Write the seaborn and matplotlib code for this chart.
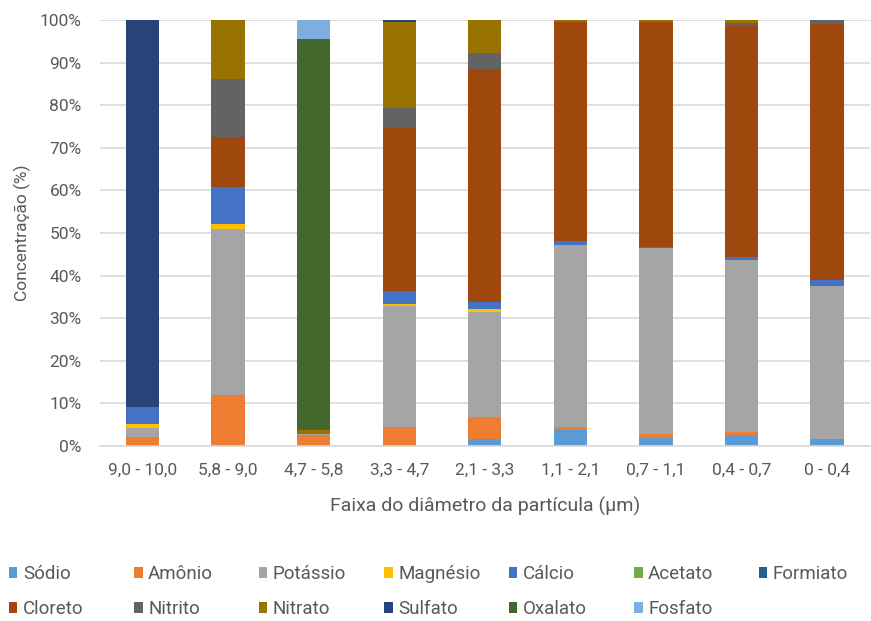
import numpy as np
import pandas as pd
import matplotlib
matplotlib.use("Agg")
import matplotlib.pyplot as plt
import seaborn as sns
from matplotlib.patches import Patch
from matplotlib.ticker import PercentFormatter

categories = ["9,0 - 10,0", "5,8 - 9,0", "4,7 - 5,8", "3,3 - 4,7", "2,1 - 3,3",
              "1,1 - 2,1", "0,7 - 1,1", "0,4 - 0,7", "0 - 0,4"]
species = ["Sódio", "Amônio", "Potássio", "Magnésio", "Cálcio", "Acetato", "Formiato",
           "Cloreto", "Nitrito", "Nitrato", "Sulfato", "Oxalato", "Fosfato"]

sodio    = [0.0, 0.0, 0.0, 0.0, 1.6, 3.8, 1.9, 2.6, 1.6]
amonio   = [2.0, 12.0, 2.6, 4.5, 5.3, 0.7, 0.9, 0.6, 0.0]
potassio = [2.3, 38.9, 0.3, 28.4, 24.6, 42.7, 43.6, 40.5, 36.0]
magnesio = [0.9, 1.2, 0.0, 0.4, 0.6, 0.0, 0.0, 0.0, 0.0]
calcio   = [4.0, 8.8, 0.0, 3.2, 1.6, 1.0, 0.4, 0.7, 1.4]
acetato  = [0.0, 0.0, 0.0, 0.0, 0.0, 0.0, 0.0, 0.0, 0.0]
formiato = [0.0, 0.0, 0.0, 0.0, 0.0, 0.0, 0.0, 0.0, 0.0]
cloreto  = [0.0, 11.6, 0.0, 38.1, 54.8, 51.4, 52.7, 54.2, 60.1]
nitrito  = [0.0, 13.7, 0.0, 4.7, 3.7, 0.0, 0.0, 0.6, 0.9]
nitrato  = [0.0, 13.8, 0.9, 20.3, 7.8, 0.4, 0.5, 0.8, 0.0]
sulfato  = [90.8, 0.0, 0.0, 0.4, 0.0, 0.0, 0.0, 0.0, 0.0]
oxalato  = [0.0, 0.0, 91.8, 0.0, 0.0, 0.0, 0.0, 0.0, 0.0]
fosfato  = [0.0, 0.0, 4.3, 0.0, 0.0, 0.0, 0.0, 0.0, 0.0]

series = [sodio, amonio, potassio, magnesio, calcio, acetato, formiato,
          cloreto, nitrito, nitrato, sulfato, oxalato, fosfato]
colors = ["#5B9BD5", "#ED7D31", "#A5A5A5", "#FFC000", "#4472C4", "#70AD47", "#255E91",
          "#9E480E", "#636363", "#997300", "#264478", "#43682B", "#7CAFDD"]

sns.set_theme(style="white")
plt.rcParams["font.family"] = ["Roboto", "DejaVu Sans"]

TXT = "#595959"
fig = plt.figure(figsize=(8.71, 6.21), dpi=100)
ax = fig.add_axes([0.1145, 0.2818, 0.8841, 0.686])

bottom = np.zeros(len(categories))
for name, vals, col in zip(species, series, colors):
    df = pd.DataFrame({"cat": categories, "val": vals})
    sns.barplot(data=df, x="cat", y="val", order=categories, color=col,
                bottom=bottom.copy(), width=0.39, errorbar=None, ax=ax,
                saturation=1, linewidth=0)
    bottom += np.array(vals)

ax.set_ylim(0, 100)
ax.set_xlim(-0.5, len(categories) - 0.5)
ax.set_yticks(np.arange(0, 101, 10))
ax.yaxis.set_major_formatter(PercentFormatter(decimals=0))
ax.grid(axis="y", color="#D9D9D9", linewidth=1.2)
ax.set_axisbelow(True)
for s in ["top", "right", "left"]:
    ax.spines[s].set_visible(False)
ax.spines["bottom"].set_color("#D9D9D9")
ax.spines["bottom"].set_linewidth(1.2)
ax.tick_params(axis="y", length=0, labelsize=12.5, colors=TXT, pad=13)
ax.tick_params(axis="x", length=0, labelsize=12.5, colors=TXT, pad=12)
ax.set_xlabel("Faixa do diâmetro da partícula (µm)", fontsize=14, color=TXT, labelpad=14)
ax.set_ylabel("Concentração (%)", fontsize=12.5, color=TXT, labelpad=6)

# legend: two rows, equal column spacing
col_x = [0.010, 0.154, 0.297, 0.441, 0.584, 0.728, 0.871]
for j in range(7):
    idxs = [j, j + 7] if j + 7 < len(species) else [j]
    handles = [Patch(facecolor=colors[i], edgecolor="none") for i in idxs]
    labels = [species[i] for i in idxs]
    fig.legend(handles, labels, loc="upper left", bbox_to_anchor=(col_x[j], 0.090),
               frameon=False, fontsize=13.5, labelcolor=TXT,
               handlelength=0.45, handleheight=0.55, handletextpad=0.3,
               labelspacing=0.9, borderaxespad=0, borderpad=0)

fig.savefig("out.png", dpi=100)
